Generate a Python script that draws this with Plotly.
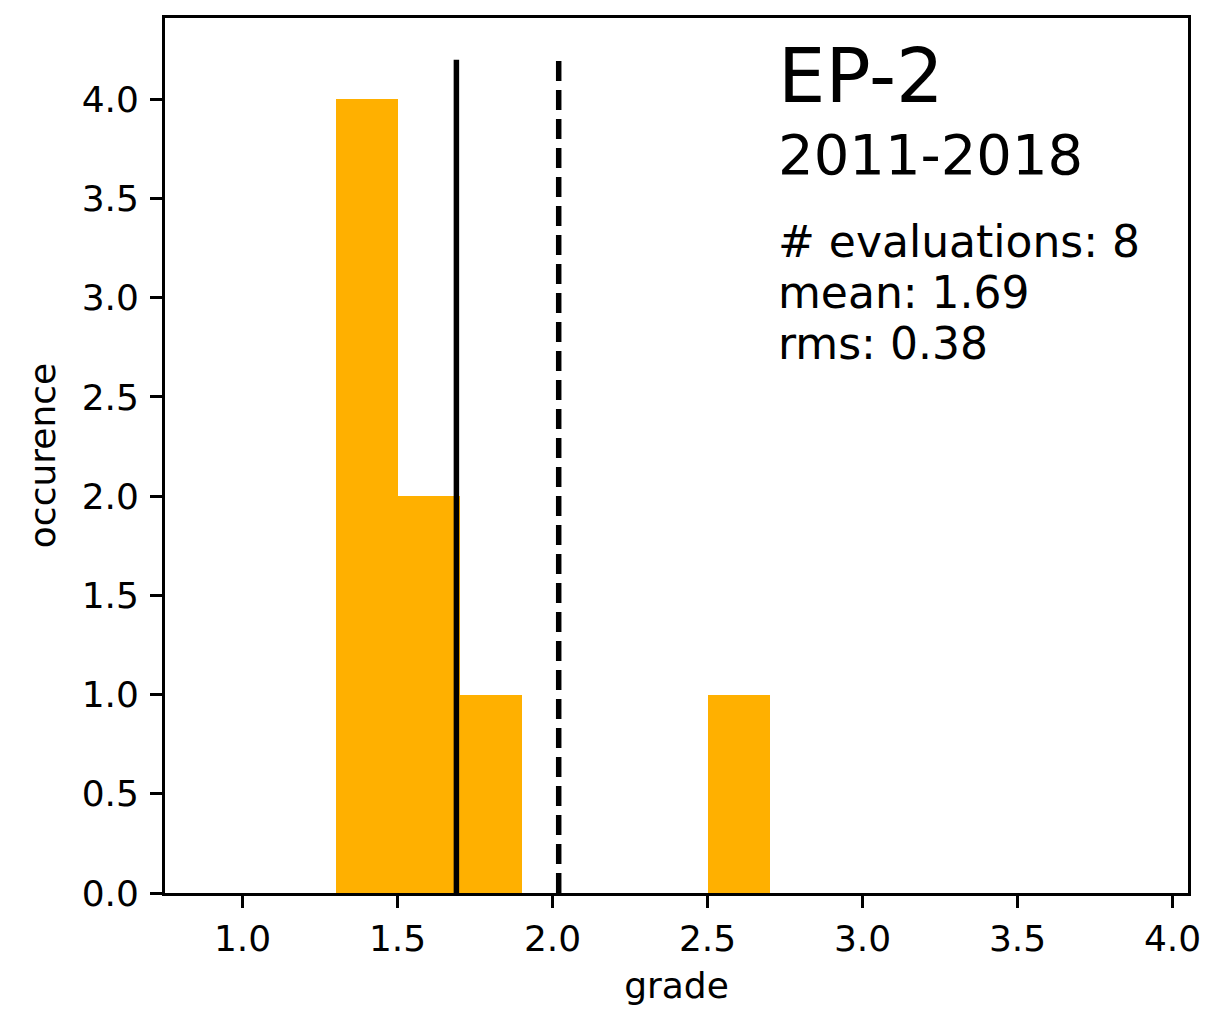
"""Grade histogram for one course: counts per bin, mean and reference lines."""

import plotly.graph_objects as go

# --- Data ---
bin_left = [1.3, 1.5, 1.7, 2.5]
bin_width = 0.2
counts = [4, 2, 1, 1]
mean_grade = 1.69
reference_grade = 2.02
line_top = 4.2

course = "EP-2"
years = "2011-2018"
stats_lines = ["# evaluations: 8", "mean: 1.69", "rms: 0.38"]

FONT = "DejaVu Sans"
ORANGE = "#FFB000"

fig = go.Figure()

fig.add_trace(go.Bar(
    x=[b + bin_width / 2 for b in bin_left],
    y=counts,
    width=bin_width,
    marker=dict(color=ORANGE, line=dict(width=0)),
    showlegend=False,
    hoverinfo="skip",
))

fig.add_trace(go.Scatter(
    x=[mean_grade, mean_grade], y=[0, line_top],
    mode="lines", line=dict(color="black", width=5.5),
    showlegend=False,
))
fig.add_trace(go.Scatter(
    x=[reference_grade, reference_grade], y=[0, line_top],
    mode="lines", line=dict(color="black", width=5.5, dash="20px,9px"),
    showlegend=False,
))

# --- Text block (upper right) ---
text_x = 2.72
fig.add_annotation(x=text_x, y=4.12, xref="x", yref="y", text=course,
                   showarrow=False, xanchor="left", yanchor="middle",
                   font=dict(family=FONT, size=75, color="black"))
fig.add_annotation(x=text_x, y=3.72, xref="x", yref="y", text=years,
                   showarrow=False, xanchor="left", yanchor="middle",
                   font=dict(family=FONT, size=56, color="black"))
for i, line in enumerate(stats_lines):
    fig.add_annotation(x=text_x, y=3.285 - i * 0.259, xref="x", yref="y",
                       text=line, showarrow=False,
                       xanchor="left", yanchor="middle",
                       font=dict(family=FONT, size=44, color="black"))

axis_common = dict(
    showline=True, linecolor="black", linewidth=2.8, mirror=True,
    ticks="outside", ticklen=12, tickwidth=2.8, tickcolor="black",
    showgrid=False, zeroline=False,
    tickfont=dict(family=FONT, size=36, color="black"),
    tickformat=".1f",
)

fig.update_layout(
    width=1213, height=1011,
    margin=dict(l=157, r=33, t=7, b=126),
    paper_bgcolor="white", plot_bgcolor="white",
    font=dict(family=FONT, color="black"),
    bargap=0,
    xaxis=dict(range=[0.75, 4.05], tick0=1.0, dtick=0.5,
               title=dict(text="grade", standoff=15,
                          font=dict(family=FONT, size=36, color="black")),
               **axis_common),
    yaxis=dict(range=[0, 4.41], tick0=0, dtick=0.5, ticklabelstandoff=4,
               title=dict(text="occurence", standoff=16,
                          font=dict(family=FONT, size=36, color="black")),
               **axis_common),
)

fig.write_html("out.html")
